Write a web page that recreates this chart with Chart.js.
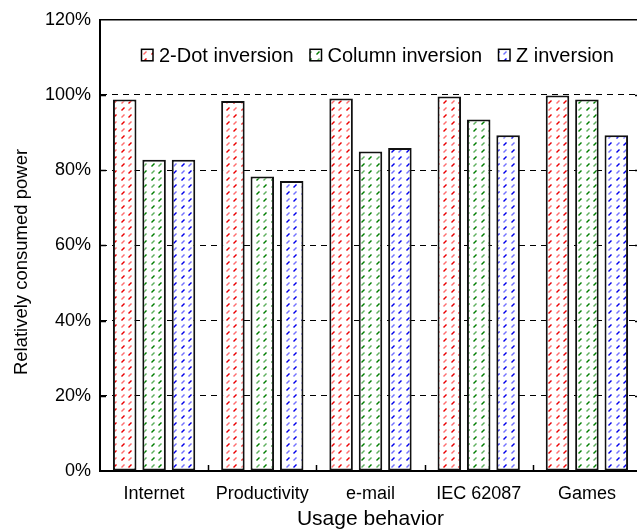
<!DOCTYPE html>
<html>
<head>
<meta charset="utf-8">
<script src="https://cdn.jsdelivr.net/npm/chart.js@4/dist/chart.umd.min.js"></script>
<style>
  html, body { margin: 0; padding: 0; background: #fff; overflow: hidden; width: 637px; height: 530px; }
  canvas { display: block; }
</style>
</head>
<body>
<canvas id="chart" width="645" height="530"></canvas>
<script>
// Usage scenarios on the x axis
const categories = ['Internet', 'Productivity', 'e-mail', 'IEC 62087', 'Games'];

// Series names
const seriesNames = ['2-Dot inversion', 'Column inversion', 'Z inversion'];

// Relative consumed power, percent
const twoDotValues = [98.8, 98.4, 99.1, 99.6, 99.9];
const columnValues = [82.8, 78.3, 85.0, 93.5, 98.8];
const zValues      = [82.8, 77.1, 85.9, 89.3, 89.3];

// Y axis range and tick spacing (percent)
const yMin = 0, yMax = 120, yStep = 20;

const FONT = '"Liberation Sans", Arial, Helvetica, sans-serif';
const canvas = document.getElementById('chart');
const ctx = canvas.getContext('2d');

// White tile with short diagonal dashes, repeated as a fill
function hatch(dark, light) {
  const t = document.createElement('canvas');
  t.width = 15; t.height = 14;
  const g = t.getContext('2d');
  g.fillStyle = '#fff';
  g.fillRect(0, 0, 15, 14);
  g.lineWidth = 1.4;
  const marks = [[1, 2, light], [8, 2, dark], [1, 9, dark], [8, 9, light]];
  for (const [ox, oy, col] of marks) {
    g.strokeStyle = col;
    g.beginPath();
    g.moveTo(ox + 0.5, oy + 3.5);
    g.lineTo(ox + 3.5, oy + 0.5);
    g.stroke();
  }
  return ctx.createPattern(t, 'repeat');
}

const fills = [
  hatch('rgb(235,0,0)', 'rgb(255,110,110)'),
  hatch('rgb(0,125,0)', 'rgb(95,175,95)'),
  hatch('rgb(0,0,235)', 'rgb(115,115,255)')
];
const seriesValues = [twoDotValues, columnValues, zValues];

// Frame, inner tick marks, y title and the in-plot legend
const framePlugin = {
  id: 'frame',
  afterDraw(chart) {
    const c = chart.ctx;
    const { left, right, top, bottom } = chart.chartArea;
    const xs = chart.scales.x, ys = chart.scales.y;
    c.save();
    c.strokeStyle = '#000';

    // top border
    c.lineWidth = 1.5;
    c.beginPath(); c.moveTo(left, top); c.lineTo(right, top); c.stroke();

    // inward y ticks on both sides
    ys.ticks.forEach(t => {
      if (t.value <= yMin || t.value >= yMax) return;
      const py = Math.round(ys.getPixelForValue(t.value)) + 0.5;
      c.beginPath();
      c.moveTo(left, py); c.lineTo(left + 6, py);
      c.moveTo(right - 6, py); c.lineTo(right, py);
      c.stroke();
    });

    // inward x ticks between categories
    for (let i = 0; i < categories.length - 1; i++) {
      const px = Math.round((xs.getPixelForValue(i) + xs.getPixelForValue(i + 1)) / 2) + 0.5;
      c.beginPath(); c.moveTo(px, bottom); c.lineTo(px, bottom - 6); c.stroke();
    }

    // y axis title, centred on the canvas height
    c.save();
    c.translate(22, chart.height / 2 - 3);
    c.rotate(-Math.PI / 2);
    c.font = '18.5px ' + FONT;
    c.fillStyle = '#000';
    c.textAlign = 'center';
    c.textBaseline = 'middle';
    c.fillText('Relatively consumed power', 0, 0);
    c.restore();

    // legend
    c.font = '20px ' + FONT;
    c.textBaseline = 'alphabetic';
    c.textAlign = 'left';
    let lx = left + 41;
    const boxTop = top + 29, base = top + 42;
    chart.data.datasets.forEach((ds, i) => {
      c.fillStyle = fills[i];
      c.fillRect(lx, boxTop, 12, 12);
      c.lineWidth = 1.5;
      c.strokeStyle = '#000';
      c.strokeRect(lx + 0.5, boxTop + 0.5, 11.5, 11.5);
      c.fillStyle = '#000';
      c.fillText(ds.label, lx + 18, base);
      lx += 18 + c.measureText(ds.label).width + 16;
    });
    c.restore();
  }
};

Chart.defaults.color = '#000';
Chart.defaults.font.family = FONT;

new Chart(ctx, {
  type: 'bar',
  data: {
    labels: categories,
    datasets: seriesNames.map((name, i) => ({
      label: name,
      data: seriesValues[i],
      backgroundColor: fills[i],
      borderColor: '#111',
      borderWidth: 2,
      borderSkipped: false,
      categoryPercentage: 0.815,
      barPercentage: 0.8
    }))
  },
  options: {
    responsive: false,
    animation: false,
    devicePixelRatio: 1,
    layout: { padding: { top: 19, right: 4, left: 0, bottom: 0 } },
    plugins: { legend: { display: false }, tooltip: { enabled: false } },
    scales: {
      x: {
        grid: { display: false },
        border: { display: true, color: '#000', width: 2 },
        ticks: { font: { size: 18 }, padding: 4, maxRotation: 0 },
        title: { display: true, text: 'Usage behavior', font: { size: 21, lineHeight: 1 }, padding: { top: 0, bottom: 0 } },
        afterFit(scale) { scale.height = 59; }
      },
      y: {
        min: yMin, max: yMax,
        grid: { color: '#000', lineWidth: 1, drawTicks: false },
        border: { display: true, color: '#000', width: 2, dash: [6, 5] },
        ticks: { stepSize: yStep, font: { size: 18 }, padding: 9, callback: v => v + '%' },
        afterFit(scale) { scale.width = 100; }
      }
    }
  },
  plugins: [framePlugin]
});
</script>
</body>
</html>
